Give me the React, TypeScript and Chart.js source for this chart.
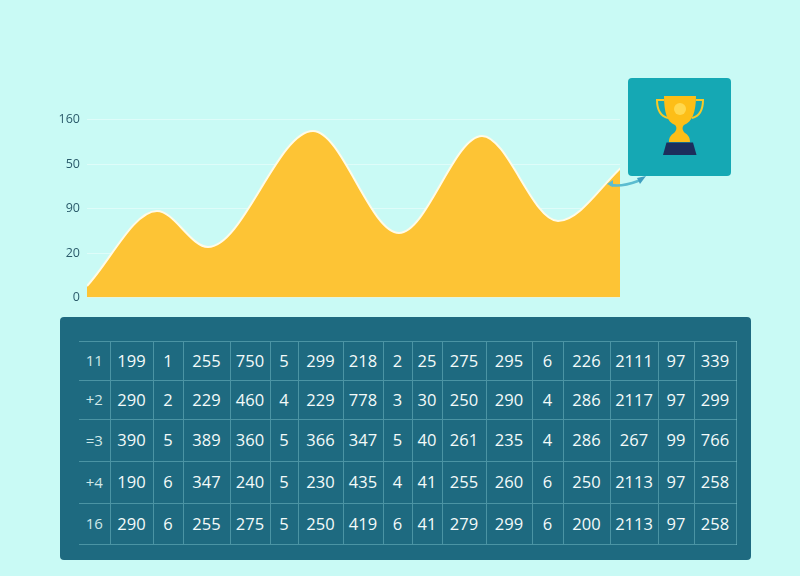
import React, { useEffect, useRef } from "react";
import { Chart, registerables } from "chart.js";

Chart.register(...registerables);

const xValues = [0,70,121,226,312,395,471,538];
const seriesValues = [10.3,77.8,45.4,149.7,58,145.2,68.8,120];
const yTickLabels = ["0","20","90","50","160"];

const row1 = ["11","199","1","255","750","5","299","218","2","25","275","295","6","226","2111","97","339"];
const row2 = ["+2","290","2","229","460","4","229","778","3","30","250","290","4","286","2117","97","299"];
const row3 = ["=3","390","5","389","360","5","366","347","5","40","261","235","4","286","267","99","766"];
const row4 = ["+4","190","6","347","240","5","230","435","4","41","255","260","6","250","2113","97","258"];
const row5 = ["16","290","6","255","275","5","250","419","6","41","279","299","6","200","2113","97","258"];
const tableRows = [row1, row2, row3, row4, row5];

const columnEdges = [79,110,153,183,230,270,298,343,383,412,442,486,532,563,610,658,694,736];
const rowEdges = [341,380,419,461,503,544];

const FONT = '"Open Sans", "Noto Sans", sans-serif';

export default function App() {
  const ref = useRef<HTMLCanvasElement>(null);

  useEffect(() => {
    document.documentElement.style.background = "#C9FAF5";
    document.body.style.background = "#C9FAF5";
    const chart = new Chart(ref.current!, {
      type: "line",
      data: {
        datasets: [{
          data: xValues.map((x, i) => ({ x, y: seriesValues[i] })),
          borderColor: "#FFFBE8",
          borderWidth: 2,
          backgroundColor: "#FDC435",
          fill: "origin",
          pointRadius: 0,
          cubicInterpolationMode: "monotone",
        }],
      },
      options: {
        animation: false,
        responsive: false,
        layout: { padding: { top: 119.5, bottom: 278.5, right: 180, left: 0 } },
        plugins: { legend: { display: false }, tooltip: { enabled: false } },
        scales: {
          x: { type: "linear", display: false, min: 0, max: 533 },
          y: {
            min: 0,
            max: 160,
            afterFit: (s: any) => { s.width = 87; },
            border: { display: false },
            grid: { color: "rgba(255,255,255,0.4)", lineWidth: 1, drawTicks: false },
            ticks: {
              stepSize: 40,
              padding: 7,
              color: "#2B5B6B",
              font: { family: FONT, size: 12.5 },
              callback: (_v: any, i: number) => yTickLabels[i],
            },
          },
        },
      },
    });
    return () => chart.destroy();
  }, []);

  const widths = columnEdges.slice(1).map((e, i) => e - columnEdges[i]);
  const heights = rowEdges.slice(1).map((e, i) => e - rowEdges[i]);
  const line = "1px solid rgba(130,200,208,0.45)";

  return (
    <div style={{ position: "absolute", left: 0, top: 0, width: 800, height: 576, overflow: "hidden", background: "#C9FAF5" }}>
      <canvas ref={ref} width={800} height={576} style={{ position: "absolute", left: 0, top: 0, display: "block" }} />

      <svg width={800} height={576} style={{ position: "absolute", left: 0, top: 0 }}>
        <rect x={628} y={78} width={103} height={98} rx={4} fill="#15A8B4" />
        <path d="M611 185 Q 622 187 638 181" fill="none" stroke="#5BBCD0" strokeWidth={2.5} strokeLinecap="round" />
        <path d="M637 178 L646 176 L640 184 Z" fill="#3F9FC0" />
        <path d="M613 180 L607 184 L613 187 Z" fill="#5BBCD0" />
        <path d="M664 100 H657 C657 110 660 116 668 118" fill="none" stroke="#F5C92A" strokeWidth={2} />
        <path d="M696 100 H703 C703 110 700 116 692 118" fill="none" stroke="#F5C92A" strokeWidth={2} />
        <path d="M664 96 H696 C696 112 692 122 684 125 C682 127 682 130 685 133 C688 135 690 137 690 142 H669 C669 137 671 135 674 133 C677 130 677 127 675 125 C667 122 664 112 664 96 Z" fill="#FDBE17" />
        <circle cx={680} cy={109} r={6} fill="#FFD84D" />
        <path d="M666.5 142.5 H693 L696.5 155 H663 Z" fill="#1C2E5C" />
      </svg>

      <div style={{ position: "absolute", left: 60, top: 317, width: 691, height: 243, background: "#1E6A80", borderRadius: 4 }} />
      <table style={{
        position: "absolute", left: columnEdges[0], top: rowEdges[0],
        width: columnEdges[columnEdges.length - 1] - columnEdges[0],
        height: rowEdges[rowEdges.length - 1] - rowEdges[0],
        borderCollapse: "collapse", tableLayout: "fixed", fontFamily: FONT, color: "#F0FAF8",
      }}>
        <colgroup>{widths.map((w, i) => <col key={i} style={{ width: w }} />)}</colgroup>
        <tbody>
          {tableRows.map((row, r) => (
            <tr key={r} style={{ height: heights[r] }}>
              {row.map((c, i) => (
                <td key={i} style={{
                  padding: "0 0 2px 0", textAlign: "center", fontSize: i === 0 ? 15 : 16.5, fontWeight: i === 0 ? 400 : 500,
                  color: i === 0 ? "#CFE8E8" : "#F4FBFA",
                  borderTop: line, borderBottom: line,
                  borderLeft: i === 0 ? "none" : line,
                  borderRight: i === row.length - 1 ? line : "none",
                }}>{c}</td>
              ))}
            </tr>
          ))}
        </tbody>
      </table>
    </div>
  );
}
